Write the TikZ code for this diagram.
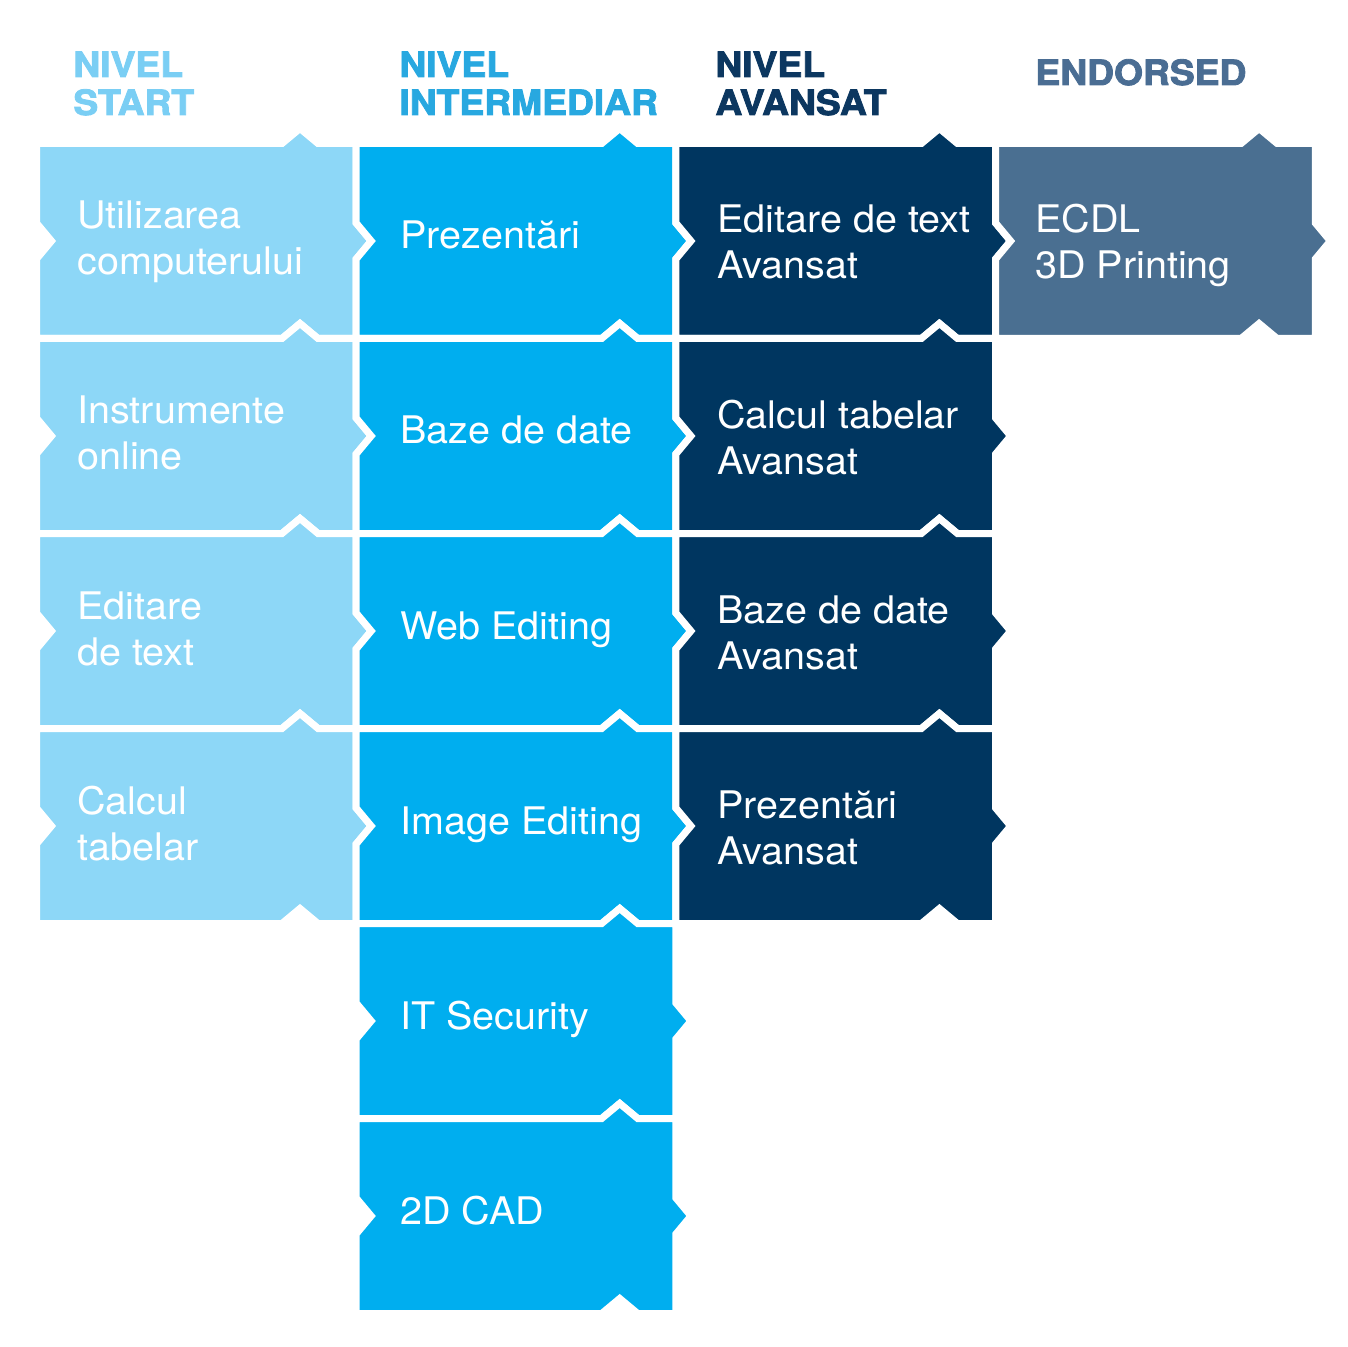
\documentclass[tikz,border=0pt]{standalone}
\usepackage{fontspec}
\setmainfont[FakeStretch=1.04]{TeX Gyre Heros}
\newfontfamily\headfont[FakeStretch=1.07, FakeBold=2.5]{texgyreheros-bold.otf}
\definecolor{lvstart}{RGB}{141,215,247}
\definecolor{lvinter}{RGB}{0,174,239}
\definecolor{lvavans}{RGB}{0,54,96}
\definecolor{lvendors}{RGB}{74,111,145}
\definecolor{hdstart}{RGB}{122,206,244}
\definecolor{hdinter}{RGB}{40,168,224}
\definecolor{hdavans}{RGB}{12,55,96}
\definecolor{hdendors}{RGB}{74,109,147}
\usetikzlibrary{positioning}

% one puzzle piece: column, row, colour
\newcommand{\puzzlepiece}[3]{%
  \filldraw[fill=#3, draw=white, line width=3.5pt,
    shift={({36.5+#1*319.7},{143.5+#2*195})}]
    (0,0) -- (245.5,0) -- (263.5,-15) -- (281.5,0) -- (319.7,0)
    -- (319.7,79.5) -- (334.7,97.5) -- (319.7,115.5) -- (319.7,195)
    -- (281.5,195) -- (263.5,180) -- (245.5,195) -- (0,195)
    -- (0,115.5) -- (15,97.5) -- (0,79.5) -- cycle;}

\begin{document}
\begin{tikzpicture}[x=0.5pt, y=-0.5pt,
  headtext/.style={anchor=base west, inner sep=0pt, align=left,
    font=\headfont\fontsize{17.4}{19}\selectfont},
  piecetext/.style={anchor=base west, inner sep=0pt, align=left, text=white,
    font=\fontsize{19}{23}\selectfont}]

\useasboundingbox (0,0) rectangle (1348,1347);

% Headings (base = last line)
\node[headtext, text=hdstart] (hStart) at (73,115) {NIVEL\\START};
\node[headtext, text=hdinter] (hInter) at (399,115) {NIVEL\\INTERMEDIAR};
\node[headtext, text=hdavans] (hAvans) at (715,115) {NIVEL\\AVANSAT};
\node[headtext, text=hdendors] (hEndors) at (1035,85) {ENDORSED};

% Nivel start
\puzzlepiece{0}{0}{lvstart}
\puzzlepiece{0}{1}{lvstart}
\puzzlepiece{0}{2}{lvstart}
\puzzlepiece{0}{3}{lvstart}

% Nivel intermediar
\puzzlepiece{1}{0}{lvinter}
\puzzlepiece{1}{1}{lvinter}
\puzzlepiece{1}{2}{lvinter}
\puzzlepiece{1}{3}{lvinter}
\puzzlepiece{1}{4}{lvinter}
\puzzlepiece{1}{5}{lvinter}

% Nivel avansat
\puzzlepiece{2}{0}{lvavans}
\puzzlepiece{2}{1}{lvavans}
\puzzlepiece{2}{2}{lvavans}
\puzzlepiece{2}{3}{lvavans}

% Endorsed
\puzzlepiece{3}{0}{lvendors}

% Texts (base = last line)
\node[piecetext] (s1) at (77,275) {Utilizarea\\computerului};
\node[piecetext] (s2) at (77,470) {Instrumente\\online};
\node[piecetext] (s3) at (77,665) {Editare\\de text};
\node[piecetext] (s4) at (77,860) {Calcul\\tabelar};

\node[piecetext] (i1) at (400,249) {Prezentări};
\node[piecetext] (i2) at (400,444) {Baze de date};
\node[piecetext] (i3) at (400,639) {Web Editing};
\node[piecetext] (i4) at (400,834) {Image Editing};
\node[piecetext] (i5) at (400,1029) {IT Security};
\node[piecetext] (i6) at (400,1224) {2D CAD};

\node[piecetext] (a1) at (717,279) {Editare de text\\Avansat};
\node[piecetext] (a2) at (717,474) {Calcul tabelar\\Avansat};
\node[piecetext] (a3) at (717,669) {Baze de date\\Avansat};
\node[piecetext] (a4) at (717,864) {Prezentări\\Avansat};

\node[piecetext] (e1) at (1035,279) {ECDL\\3D Printing};

\end{tikzpicture}
\end{document}
